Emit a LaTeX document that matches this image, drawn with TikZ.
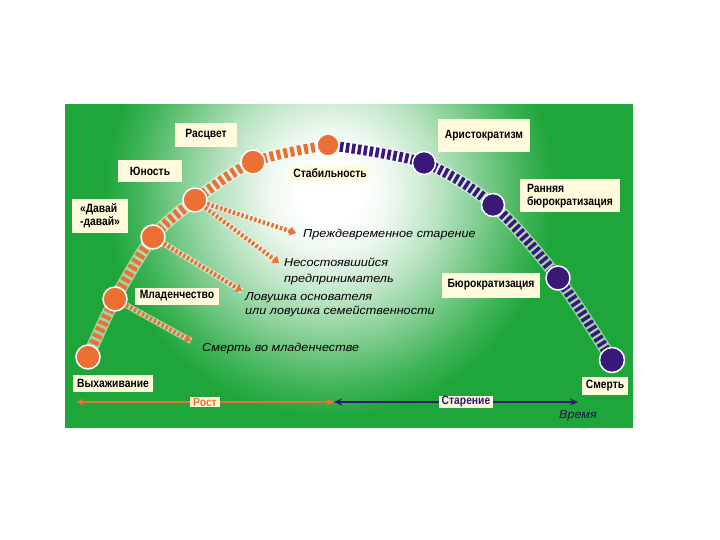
\documentclass[tikz,border=0pt]{standalone}
\usepackage{fontspec}
\setmainfont{Liberation Sans}
\newfontfamily\itfont[FakeStretch=1.1]{Liberation Sans}
\newfontfamily\lblfont[FakeStretch=0.86]{Liberation Sans}
\usetikzlibrary{arrows.meta}
\definecolor{gr}{RGB}{30,166,58}
\definecolor{org}{RGB}{236,112,52}
\definecolor{pur}{RGB}{58,24,122}
\definecolor{navy}{RGB}{40,28,112}
\definecolor{cream}{RGB}{255,251,220}
\colorlet{gA}{white!92!gr}
\colorlet{gB}{white!70!gr}
\colorlet{gC}{white!42!gr}
\colorlet{gD}{white!16!gr}
\pgfdeclareradialshading{glow}{\pgfpoint{0bp}{0bp}}{color(0bp)=(white); color(3.5bp)=(white); color(7bp)=(gA); color(12bp)=(gB); color(17bp)=(gC); color(21.5bp)=(gD); color(25bp)=(gr); color(50bp)=(gr)}
\pgfdeclarelayer{back}
\pgfdeclarelayer{mid}
\pgfsetlayers{back,mid,main}
\begin{document}
\begin{tikzpicture}[x=1pt,y=-1pt,
  lbl/.style={fill=cream, inner sep=2pt, font=\lblfont\bfseries\fontsize{12}{13}\selectfont, text=black},
  itx/.style={font=\itfont\itshape\fontsize{11.5}{14}\selectfont, text=black, inner sep=0pt, anchor=west, align=left},
  odot/.style={circle, fill=org, draw=white, line width=1.5pt, minimum size=24pt, inner sep=0pt},
  pdot/.style={circle, fill=pur, draw=white, line width=1.5pt, minimum size=23pt, inner sep=0pt},
  bandbase/.style={line width=12.5pt, draw=white, draw opacity=0.55},
  oband/.style={line width=10pt, draw=org, dash pattern=on 4pt off 3pt},
  pband/.style={line width=10pt, draw=pur, dash pattern=on 3.5pt off 2.5pt},
  darr/.style={draw=org, line width=4.5pt, dash pattern=on 2.5pt off 2pt,
    -{Triangle[length=6pt,width=9pt,line width=0.6pt]},
    preaction={draw=white, draw opacity=0.6, line width=6pt, solid, -}},
  axline/.style={line width=2pt, {Stealth[length=8pt,width=7pt]}-{Stealth[length=8pt,width=7pt]}},
  axlbl/.style={fill=cream, inner xsep=3pt, inner ysep=1pt, font=\lblfont\bfseries\fontsize{12}{12}\selectfont}
]
\useasboundingbox (0,0) rectangle (720,540);
\begin{pgfonlayer}{back}
  \fill[white] (0,0) rectangle (720,540);
  \fill[gr] (65,104) rectangle (633,428);
  \begin{scope}
    \clip (66,105) rectangle (632,427);
    \shade[shading=glow] (330,192) circle (225);
  \end{scope}
\end{pgfonlayer}

% stage circles
\node[odot] (vyh) at (88,357) {};
\node[odot] (mlad) at (115,299) {};
\node[odot] (dav) at (153,237) {};
\node[odot] (yun) at (195,200) {};
\node[odot] (rasc) at (253,162) {};
\node[odot, minimum size=22pt] (stab) at (328,145) {};
\node[pdot] (arist) at (424,163) {};
\node[pdot] (rann) at (493,205) {};
\node[pdot, minimum size=24pt] (bur) at (558,278) {};
\node[pdot, minimum size=25pt] (smert) at (612,360) {};

\begin{pgfonlayer}{mid}
  \draw[bandbase] plot[smooth] coordinates {(vyh.center) (mlad.center) (dav.center) (yun.center) (rasc.center) (stab.center)};
  \draw[oband] plot[smooth] coordinates {(vyh.center) (mlad.center) (dav.center) (yun.center) (rasc.center) (stab.center)};
  \draw[bandbase] plot[smooth] coordinates {(stab.center) (arist.center) (rann.center) (bur.center) (smert.center)};
  \draw[pband] plot[smooth] coordinates {(stab.center) (arist.center) (rann.center) (bur.center) (smert.center)};
\end{pgfonlayer}

% stage labels
\node[lbl, minimum width=62pt, minimum height=24pt] (Lrasc) at (206,135) {Расцвет};
\node[lbl, minimum width=64pt, minimum height=22pt] (Lyun) at (150,171) {Юность};
\node[lbl, minimum width=56pt, minimum height=33pt, align=left] (Ldav) at (100,216) {«Давай\\-давай»};
\node[lbl, minimum width=80pt, minimum height=16pt, inner sep=1pt] (Lstab) at (330,173) {Стабильность};
\node[lbl, minimum width=92pt, minimum height=33pt] (Larist) at (484,136) {Аристократизм};
\node[lbl, minimum width=100pt, minimum height=33pt, align=left] (Lrann) at (570,196) {Ранняя\\бюрократизация};
\node[lbl, minimum width=98pt, minimum height=25pt] (Lbur) at (491,285) {Бюрократизация};
\node[lbl, minimum width=46pt, minimum height=18pt] (Lsm) at (605,386) {Смерть};
\node[lbl, minimum width=84pt, minimum height=17pt] (Lmlad) at (177,296) {Младенчество};
\node[lbl, minimum width=80pt, minimum height=17pt] (Lvyh) at (113,383) {Выхаживание};

% failure arrows
\coordinate (tA) at (296,233);
\coordinate (tB) at (279,263);
\coordinate (tC) at (242,291);
\coordinate (tD) at (191,341);
\draw[darr] (yun) -- (tA);
\draw[darr] (yun) -- (tB);
\draw[darr] (dav) -- (tC);
\draw[darr] (mlad) -- (tD);

\node[itx] (xA) at (303,235) {Преждевременное старение};
\node[itx, font=\itfont\itshape\fontsize{11.5}{16}\selectfont] (xB) at (284,271) {Несостоявшийся\\предприниматель};
\node[itx] (xC) at (245,305) {Ловушка основателя\\или ловушка семейственности};
\node[itx] (xD) at (202,349) {Смерть во младенчестве};

% time axis
\coordinate (a0) at (76,402);
\coordinate (a1) at (334,402);
\coordinate (a2) at (334,402);
\coordinate (a3) at (578,402);
\draw[org, axline] (a0) -- (a1);
\draw[navy, axline] (a2) -- (a3);
\node[axlbl, text=org] (rost) at (205,402) {Рост};
\node[axlbl, text=navy] (star) at (466,402) {Старение};
\node[font=\itfont\itshape\fontsize{11.5}{13}\selectfont, text=navy!70!black] (vrem) at (578,416) {Время};
\end{tikzpicture}
\end{document}
